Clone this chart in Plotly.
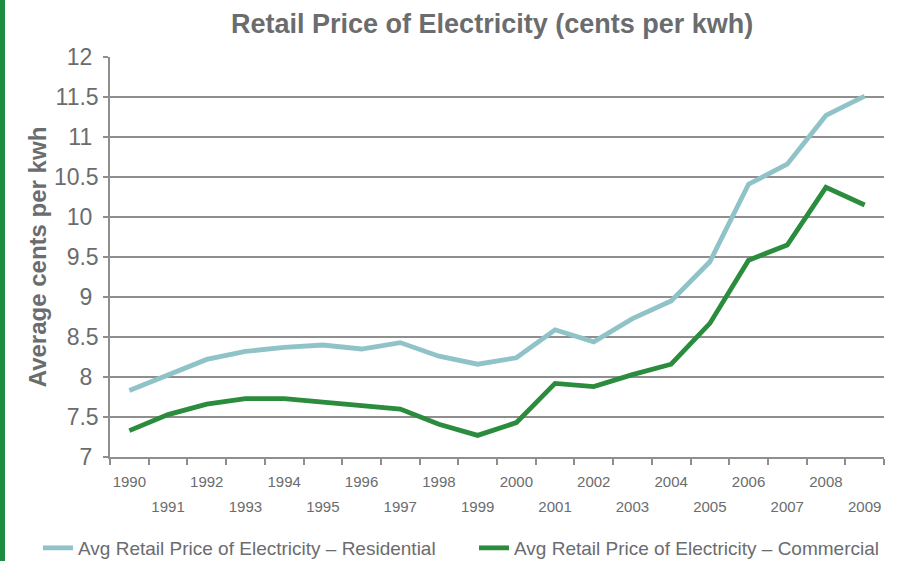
import plotly.graph_objects as go

years = [str(y) for y in range(1990, 2010)]
residential = [7.83, 8.02, 8.22, 8.32, 8.37, 8.40, 8.35, 8.43, 8.26, 8.16,
               8.24, 8.59, 8.44, 8.73, 8.95, 9.44, 10.41, 10.66, 11.27, 11.51]
commercial = [7.33, 7.53, 7.66, 7.73, 7.73, 7.69, 7.64, 7.60, 7.41, 7.27,
              7.43, 7.92, 7.88, 8.03, 8.16, 8.67, 9.46, 9.65, 10.37, 10.15]
y_ticks = [7, 7.5, 8, 8.5, 9, 9.5, 10, 10.5, 11, 11.5, 12]
y_ticktext = ["7", "7.5", "8", "8.5", "9", "9.5", "10", "10.5", "11", "11.5", "12"]

TXT = "#6b6c6e"
GRID = "#8e8e8e"
FONT = "Liberation Sans, Arial, sans-serif"

fig = go.Figure()
fig.add_trace(go.Scatter(
    x=years, y=residential, mode="lines", xaxis="x", yaxis="y",
    name="Avg Retail Price of Electricity \u2013 Residential",
    line=dict(color="#8fc3c8", width=4.8),
))
fig.add_trace(go.Scatter(
    x=years, y=commercial, mode="lines", xaxis="x2", yaxis="y",
    name="Avg Retail Price of Electricity \u2013 Commercial",
    line=dict(color="#2a8c3c", width=4.8),
))

even_text = [y if int(y) % 2 == 0 else "" for y in years]
odd_text = [y if int(y) % 2 == 1 else "" for y in years]
# integer labels sit a little left of the decimal ones, as in the reference
y_labels = [t if "." in t else t + "\u00a0" for t in y_ticktext]

fig.update_layout(
    width=903, height=561,
    margin=dict(l=110, r=19, t=57, b=104, autoexpand=False),
    paper_bgcolor="#ffffff", plot_bgcolor="#ffffff",
    font=dict(family=FONT, color=TXT),
    title=dict(text="<b>Retail Price of Electricity (cents per kwh)</b>",
               x=0.545, xanchor="center", y=0.958, yanchor="middle",
               font=dict(size=27, color=TXT, family=FONT)),
    xaxis=dict(type="category", categoryorder="array", categoryarray=years,
               range=[-0.5, 19.5], automargin=False, tickangle=0,
               tickmode="array", tickvals=years, ticktext=even_text,
               tickson="boundaries", ticks="outside", ticklen=6, tickwidth=1.5,
               tickcolor=GRID, showline=True, linecolor=GRID, linewidth=1.5,
               showgrid=False, tickfont=dict(size=15, color=TXT),
               ticklabelstandoff=10),
    xaxis2=dict(type="category", categoryorder="array", categoryarray=years,
                overlaying="x", matches="x", anchor="y", side="bottom",
                range=[-0.5, 19.5], automargin=False, tickangle=0,
                tickmode="array", tickvals=years, ticktext=odd_text,
                ticks="", showline=False, showgrid=False,
                tickfont=dict(size=15, color=TXT), ticklabelstandoff=39),
    yaxis=dict(range=[7, 12], tickmode="array", tickvals=y_ticks, ticktext=y_labels,
               automargin=False,
               ticks="outside", ticklen=5, tickwidth=1.5, tickcolor=GRID,
               showline=True, linecolor=GRID, linewidth=1.5,
               showgrid=True, gridcolor=GRID, gridwidth=1.5,
               zeroline=False, tickfont=dict(size=23, color=TXT),
               title=dict(text="<b>Average cents per kwh</b>", standoff=0,
                          font=dict(size=24, color=TXT))),
    legend=dict(orientation="h", x=-0.093, xanchor="left", y=-0.2275, yanchor="middle",
                font=dict(size=19, color=TXT), entrywidth=391, itemwidth=30,
                bgcolor="rgba(0,0,0,0)"),
    shapes=[dict(type="rect", xref="paper", yref="paper",
                 x0=-110/774, x1=(5-110)/774, y0=(457-561)/400, y1=457/400,
                 fillcolor="#1e8c3f", line=dict(width=0), layer="above")],
)

fig.write_html("out.html", config={"displayModeBar": False},
               post_script="document.body.style.margin='0';document.body.style.overflow='hidden';")
